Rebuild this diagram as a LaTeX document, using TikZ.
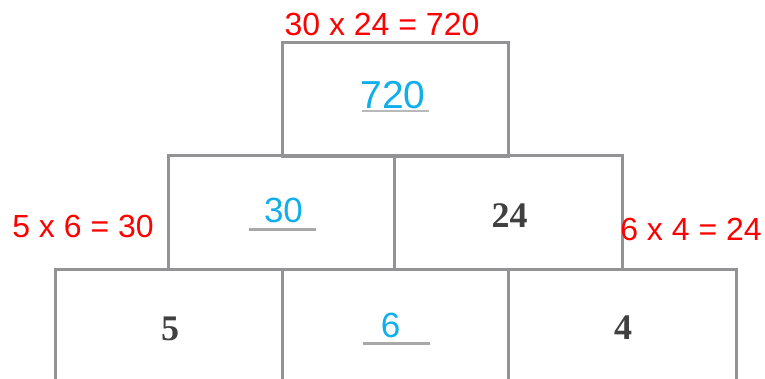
\documentclass[tikz,border=0pt]{standalone}
\usepackage{fontspec}
\setmainfont{Liberation Sans}
\newfontfamily\numserif{Liberation Serif}
\definecolor{boxgray}{HTML}{939395}
\definecolor{redtxt}{HTML}{FF0000}
\definecolor{bluetxt}{HTML}{10AFEC}
\definecolor{darktxt}{HTML}{404040}
\definecolor{ulgray}{HTML}{A8A8A8}
\tikzset{
  cell/.style={draw=boxgray, line width=3pt, rectangle, inner sep=0pt, minimum height=114pt},
  redlab/.style={text=redtxt, inner sep=0pt, anchor=base, font=\fontsize{32}{32}\selectfont},
  bluenum/.style={text=bluetxt, inner sep=0pt, anchor=base, font=\fontsize{35}{35}\selectfont},
  darknum/.style={text=darktxt, inner sep=0pt, anchor=base, font=\numserif\bfseries\fontsize{36}{36}\selectfont},
  uline/.style={draw=ulgray, line width=3pt}
}
\begin{document}
\begin{tikzpicture}[x=1pt,y=-1pt]
\useasboundingbox (0,0) rectangle (765,378);
\clip (0,0) rectangle (765,378);
% boxes
\node[cell, minimum width=226pt] (top) at (395,99) {};
\node[cell, minimum width=226pt] (midL) at (281,212.5) {};
\node[cell, minimum width=228pt] (midR) at (508,212.5) {};
\node[cell, minimum width=227pt] (botL) at (168.5,326) {};
\node[cell, minimum width=226pt] (botM) at (395,326) {};
\node[cell, minimum width=228pt] (botR) at (622,326) {};
% labels
\node[redlab] (eqTop) at (382,35) {30 x 24 = 720};
\node[redlab] (eqL) at (83,237) {5 x 6 = 30};
\node[redlab] (eqR) at (691,240) {6 x 4 = 24};
% numbers
\node[bluenum, font=\fontsize{39}{39}\selectfont] (n720) at (393,108) {720};
\node[bluenum] (n30) at (283.5,222) {30};
\node[darknum] (n24) at (509.5,227) {24};
\node[darknum] (n5) at (170,340) {5};
\node[bluenum] (n6) at (390.5,337) {6};
\node[darknum] (n4) at (623,339) {4};
% underlines
\coordinate (u1a) at (362,111); \coordinate (u1b) at (429,111);
\coordinate (u2a) at (249,229); \coordinate (u2b) at (316,229);
\coordinate (u3a) at (363,343); \coordinate (u3b) at (430,343);
\draw[uline, line width=1.5pt, draw=ulgray!80] (u1a) -- (u1b);
\draw[uline] (u2a) -- (u2b);
\draw[uline] (u3a) -- (u3b);
\end{tikzpicture}
\end{document}
